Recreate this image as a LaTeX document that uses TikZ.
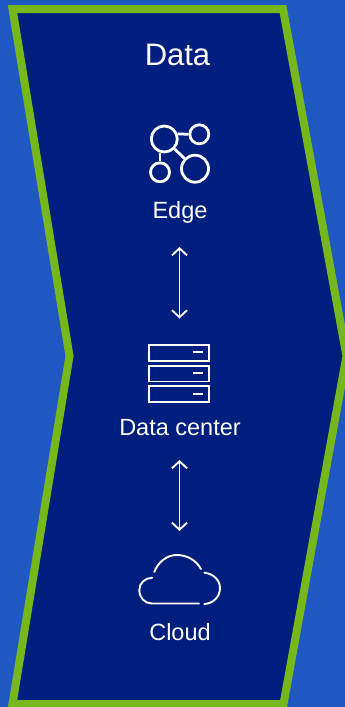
\documentclass[tikz,border=0pt]{standalone}
\usepackage{fontspec}
\setmainfont{Liberation Sans}
\usetikzlibrary{arrows.meta}
\definecolor{bgblue}{HTML}{1F57C3}
\definecolor{navy}{HTML}{001E7D}
\definecolor{limeg}{HTML}{76B81C}
\tikzset{
  lbl/.style={text=white,font=\fontsize{23.5}{26}\selectfont,inner sep=0pt,anchor=base},
  icon/.style={draw=white,line width=2.8pt,circle,inner sep=0pt},
  iconlink/.style={draw=white,line width=2.8pt},
  rack/.style={draw=white,line width=1.8pt,fill=none,inner sep=0pt,minimum width=60pt,minimum height=15.8pt},
  slot/.style={draw=white,line width=1.8pt},
  cloudline/.style={draw=white,line width=1.9pt,line cap=round},
  link/.style={draw=white,line width=1.9pt,{Straight Barb[length=7pt,width=15pt,line width=1.9pt]}-{Straight Barb[length=7pt,width=15pt,line width=1.9pt]}}
}
\begin{document}
\begin{tikzpicture}[x=1pt,y=-1pt]
\useasboundingbox (0,0) rectangle (345,707);
\clip (0,0) rectangle (345,707);
\fill[bgblue] (0,0) rectangle (345,707);
\draw[limeg,fill=navy,line width=8pt,miter limit=10]
  (12.5,9) -- (283,9) -- (346.5,356) -- (283.5,704) -- (12.5,704) -- (69.5,356) -- cycle;
\node[lbl,font=\fontsize{31}{34}\selectfont] (title) at (177.5,65) {Data};
% Edge
\node[icon,minimum size=26pt] (big) at (164.3,139) {};
\node[icon,minimum size=19pt] (tr) at (199.3,134.3) {};
\node[icon,minimum size=19pt] (bl) at (160,172.3) {};
\node[icon,minimum size=27pt] (br) at (195,168.7) {};
\draw[iconlink] (big.21) -- (tr.west);
\draw[iconlink] (big.south -| bl.north) -- (bl.north);
\draw[iconlink] (big) -- (br);
\node[lbl] (edge) at (180,218) {Edge};
% Arrow 1
\coordinate (a1) at (179.5,247);
\coordinate (a2) at (179.5,318.5);
\draw[link] (a1) -- (a2);
% Data center
\node[rack] (r1) at (179.3,352.7) {};
\node[rack] (r2) at (179.3,373.5) {};
\node[rack] (r3) at (179.3,394.2) {};
\coordinate (s1) at (192.7,352.3); \coordinate (e1) at (202.7,352.3);
\coordinate (s2) at (192.7,373.3); \coordinate (e2) at (202.7,373.3);
\coordinate (s3) at (192.7,393.7); \coordinate (e3) at (202.7,393.7);
\draw[slot] (s1) -- (e1);
\draw[slot] (s2) -- (e2);
\draw[slot] (s3) -- (e3);
\node[lbl] (dc) at (180,435) {Data center};
% Arrow 2
\coordinate (b1) at (179.5,460);
\coordinate (b2) at (179.5,531);
\draw[link] (b1) -- (b2);
% Cloud
\draw[cloudline] (154.3,572) .. controls (158,562) and (167,555) .. (176.7,555) .. controls (187,555) and (196,560) .. (201,569);
\draw[cloudline] (204.3,572.7) .. controls (213,573.5) and (220,580) .. (220,588) .. controls (220,597) and (213,603.5) .. (204.3,604);
\draw[cloudline] (199,603.5) -- (151.7,603.5) .. controls (144.5,603.5) and (139.3,597.5) .. (139.3,590) .. controls (139.3,583) and (145,578) .. (152.3,577.7);
\node[lbl] (cloud) at (180,640) {Cloud};
\end{tikzpicture}
\end{document}
